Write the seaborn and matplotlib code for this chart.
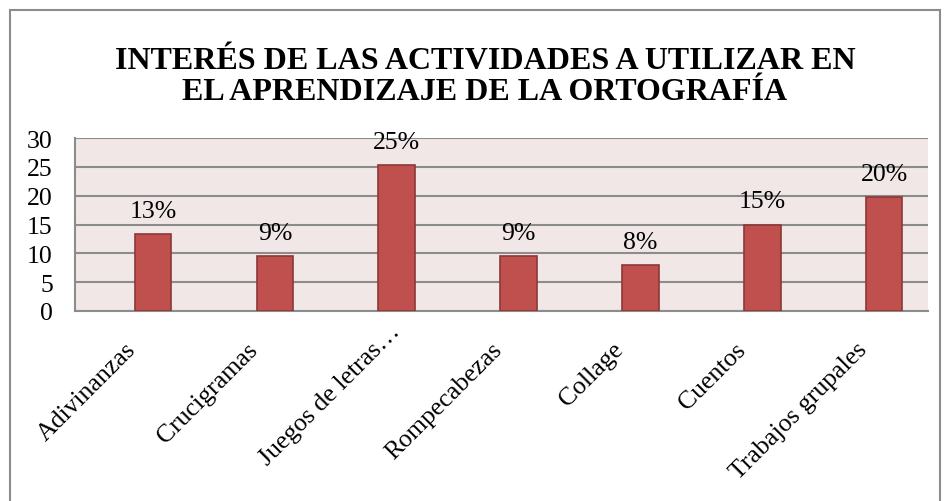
import matplotlib
matplotlib.use("Agg")
import matplotlib.pyplot as plt
import matplotlib.transforms as mtransforms
import seaborn as sns
import pandas as pd
from matplotlib.patches import Rectangle

categories = ["Adivinanzas", "Crucigramas", "Juegos de letras…", "Rompecabezas",
              "Collage", "Cuentos", "Trabajos grupales"]
values = [13.3, 9.5, 25.3, 9.5, 7.9, 15.0, 19.7]
labels = ["13%", "9%", "25%", "9%", "8%", "15%", "20%"]
yticks = [0, 5, 10, 15, 20, 25, 30]
title = "INTERÉS DE LAS ACTIVIDADES A UTILIZAR EN\nEL APRENDIZAJE DE LA ORTOGRAFÍA"

sns.set_theme(style="white")
plt.rcParams["font.family"] = ["Liberation Serif", "DejaVu Serif"]
plt.rcParams["text.color"] = "black"
plt.rcParams["xtick.color"] = "black"
plt.rcParams["ytick.color"] = "black"

df = pd.DataFrame({"cat": categories, "val": values})

W, H = 944, 502
fig = plt.figure(figsize=(W / 100, H / 100), dpi=100)
ax = fig.add_axes([75 / W, 1 - 312 / H, (928 - 75) / W, (312 - 139) / H])

sns.barplot(data=df, x="cat", y="val", ax=ax, color="#C0504D", width=0.30,
            edgecolor="#8C3836", linewidth=1.2, saturation=1, zorder=3)

ax.set_facecolor("#F2E7E7")
ax.set_ylim(0, 30)
ax.set_xlim(-0.64, len(categories) - 0.64)
ax.set_yticks(yticks)
ax.set_yticklabels([str(t) for t in yticks], fontsize=18.5, color="black")
ax.yaxis.grid(True, color="#8C8C8C", linewidth=1.5, zorder=0)
ax.set_axisbelow(True)
for s in ["top", "right"]:
    ax.spines[s].set_visible(False)
for s in ["bottom", "left"]:
    ax.spines[s].set_color("#8C8C8C")
    ax.spines[s].set_linewidth(1.5)
ax.tick_params(axis="y", length=0, pad=16)
ax.tick_params(axis="x", length=0, pad=0)
ax.set_xlabel("")
ax.set_ylabel("")

ax.set_xticks(range(len(categories)))
ax.set_xticklabels(categories, rotation=45, ha="right", rotation_mode="anchor",
                   fontsize=18.5, color="black")
for i, t in enumerate(ax.get_xticklabels()):
    dx, dy = (-28, -27)
    if t.get_text().endswith("…"):
        # Excel places the truncated label a little further up-right
        dx, dy = (-8, -9)
    off = mtransforms.ScaledTranslation(dx / 100, dy / 100, fig.dpi_scale_trans)
    t.set_transform(t.get_transform() + off)

for i, (v, lab) in enumerate(zip(values, labels)):
    ax.annotate(lab, (i, v), xytext=(0, 9), textcoords="offset points",
                ha="center", va="bottom", fontsize=18.5, color="black", zorder=4)

fig.text(485 / W, 1 - 77 / H, title, ha="center", va="center", fontsize=23,
         fontweight="bold", linespacing=1.1, color="black")

fig.add_artist(Rectangle((10 / W, -0.05), (940 - 10) / W, 1.05 - 11 / H,
                         transform=fig.transFigure, fill=False,
                         edgecolor="#8C8C8C", linewidth=1.5))

fig.savefig("out.png", dpi=100)
